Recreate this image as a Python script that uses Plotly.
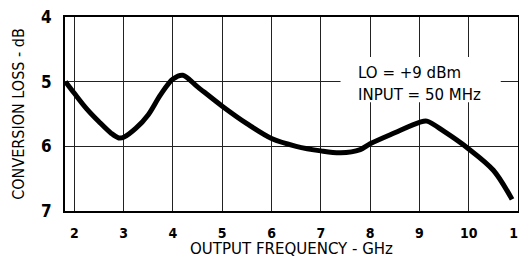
import plotly.graph_objects as go

freq_ghz = [1.82, 2.0, 2.25, 2.5, 2.75, 2.9, 3.0, 3.25, 3.5, 3.75, 4.0, 4.2, 4.5,
            5.0, 5.5, 6.0, 6.5, 7.0, 7.4, 7.8, 8.0, 8.5, 9.0, 9.15, 9.5, 10.0, 10.5, 10.88]
loss_db = [5.0, 5.18, 5.42, 5.62, 5.80, 5.87, 5.86, 5.72, 5.51, 5.2, 4.96, 4.9, 5.08,
           5.38, 5.65, 5.88, 6.0, 6.07, 6.10, 6.05, 5.96, 5.79, 5.63, 5.61, 5.77, 6.04, 6.37, 6.82]
x_ticks = [2, 3, 4, 5, 6, 7, 8, 9, 10, 11]
y_ticks = [4, 5, 6, 7]
note_lines = ["LO = +9 dBm", "INPUT = 50 MHz"]

narrow = "DejaVu Sans Condensed, Liberation Sans Narrow, sans-serif"

fig = go.Figure()
fig.add_trace(go.Scatter(x=freq_ghz, y=loss_db, mode="lines",
                         line=dict(color="black", width=5, shape="spline", smoothing=0.9),
                         hoverinfo="skip", showlegend=False))

# white box behind annotation text
fig.add_shape(type="rect", xref="x", yref="y", x0=7.4, x1=10.65, y0=4.62, y1=5.32,
              fillcolor="white", line_width=0, layer="between")
fig.add_annotation(x=7.72, y=4.87, xref="x", yref="y", text=note_lines[0], showarrow=False,
                   xanchor="left", yanchor="middle",
                   font=dict(family="DejaVu Sans", size=15, color="black"))
fig.add_annotation(x=7.72, y=5.2, xref="x", yref="y", text=note_lines[1], showarrow=False,
                   xanchor="left", yanchor="middle",
                   font=dict(family="DejaVu Sans", size=15, color="black"))

# the page body has an 8px margin, so the figure is sized to fit inside the window
fig.update_layout(
    width=519, height=250,
    margin=dict(l=57, r=9, t=9, b=47),
    paper_bgcolor="white", plot_bgcolor="white",
    xaxis=dict(range=[1.81, 11.0], tickvals=x_ticks, ticktext=[str(v) for v in x_ticks],
               automargin=False,
               showgrid=True, gridcolor="#222", gridwidth=1,
               showline=True, linecolor="black", linewidth=2, mirror=True,
               ticks="", ticklabelstandoff=8, zeroline=False, ticklabeloverflow="allow",
               tickfont=dict(family=narrow, size=14, color="black", weight="bold"),
               title=dict(text="OUTPUT FREQUENCY - GHz", standoff=1,
                          font=dict(family="DejaVu Sans", size=15, color="black"))),
    yaxis=dict(range=[7, 4], tickvals=y_ticks, ticktext=[str(v) for v in y_ticks],
               automargin=False,
               showgrid=True, gridcolor="#222", gridwidth=1,
               showline=True, linecolor="black", linewidth=2, mirror=True,
               ticks="", ticklabelstandoff=8, zeroline=False, ticklabeloverflow="allow",
               tickfont=dict(family=narrow, size=17, color="black", weight="bold"),
               title=dict(text="CONVERSION LOSS - dB", standoff=12,
                          font=dict(family=narrow, size=16, color="black"))),
)

fig.write_html("out.html")
